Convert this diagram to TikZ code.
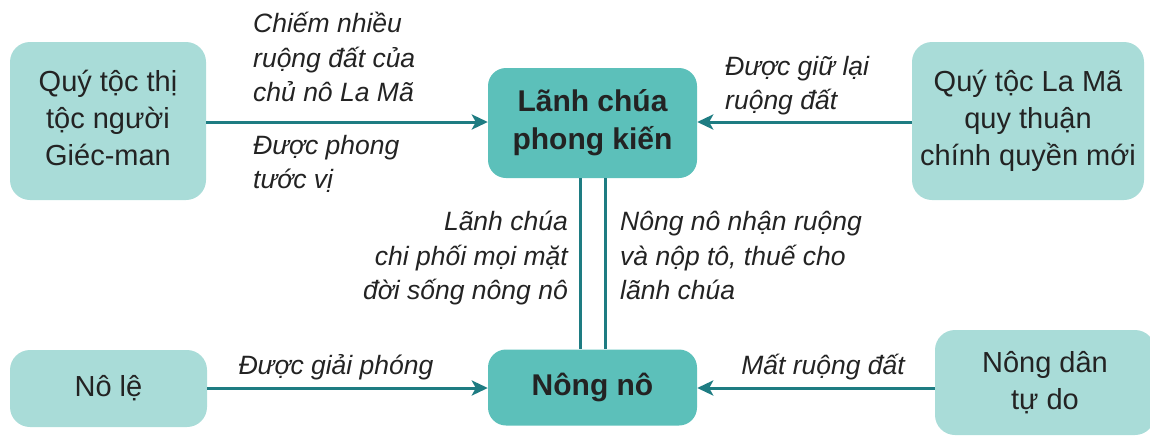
\documentclass[tikz,border=0pt]{standalone}
\usepackage{fontspec}
\setmainfont{Liberation Sans}
\usetikzlibrary{arrows.meta}
\definecolor{lightbox}{HTML}{A9DCD8}
\definecolor{darkbox}{HTML}{5CC0BA}
\definecolor{linecol}{HTML}{1E7C82}
\definecolor{txt}{HTML}{232323}
\begin{document}
\begin{tikzpicture}[x=1pt,y=-1pt,
  lbox/.style={rectangle,rounded corners=20pt,fill=lightbox,draw=none,align=center,text=txt,
    inner sep=0pt,font=\fontsize{29}{37}\selectfont},
  dbox/.style={rectangle,rounded corners=18pt,fill=darkbox,draw=none,align=center,text=txt,
    inner sep=0pt,font=\bfseries\fontsize{30}{38}\selectfont},
  lab/.style={inner sep=0pt,text=txt,font=\itshape\fontsize{26.5}{34.5}\selectfont},
  conn/.style={draw=linecol,line width=3pt},
  arr/.style={conn,-{Stealth[length=16pt,width=15pt,inset=4pt]}}
]
\useasboundingbox (0,0) rectangle (1150,437);
\node[lbox,minimum width=196pt,minimum height=158pt] (A) at (108,121) {\raisebox{-3pt}{\begin{tabular}{@{}c@{}}Quý tộc thị\\tộc người\\Giéc-man\end{tabular}}};
\node[dbox,minimum width=209pt,minimum height=110pt] (L) at (592.5,123) {Lãnh chúa\\phong kiến};
\node[lbox,minimum width=232pt,minimum height=158pt] (R) at (1028,121) {\raisebox{-3pt}{\begin{tabular}{@{}c@{}}Quý tộc La Mã\\quy thuận\\chính quyền mới\end{tabular}}};
\node[lbox,minimum width=197pt,minimum height=77pt] (S) at (108.5,388.5) {Nô lệ};
\node[dbox,minimum width=209pt,minimum height=76pt] (N) at (592.5,387.5) {Nông nô};
\node[lbox,minimum width=220pt,minimum height=105pt] (F) at (1045,382.5) {Nông dân\\tự do};

\draw[arr] (A.east |- 0,122) -- (L.west |- 0,122);
\draw[arr] (R.west |- 0,122) -- (L.east |- 0,122);
\draw[arr] (S.east |- 0,388) -- (N.west |- 0,388);
\draw[arr] (F.west |- 0,388) -- (N.east |- 0,388);
\draw[conn] (L.south -| 580,0) -- (N.north -| 580,0);
\draw[conn] (L.south -| 605,0) -- (N.north -| 605,0);

\node[lab,anchor=north west,align=left] (t1) at (253,12) {Chiếm nhiều\\ruộng đất của\\chủ nô La Mã};
\node[lab,anchor=north west,align=left] (t2) at (253,135) {Được phong\\tước vị};
\node[lab,anchor=north west,align=left] (t3) at (725,56) {Được giữ lại\\ruộng đất};
\node[lab,anchor=north east,align=right] (t4) at (568,211) {Lãnh chúa\\chi phối mọi mặt\\đời sống nông nô};
\node[lab,anchor=north west,align=left] (t5) at (620,211) {Nông nô nhận ruộng\\và nộp tô, thuế cho\\lãnh chúa};
\node[lab,anchor=south] (t6) at (336,380) {Được giải phóng};
\node[lab,anchor=south] (t7) at (823,380) {Mất ruộng đất};
\end{tikzpicture}
\end{document}
